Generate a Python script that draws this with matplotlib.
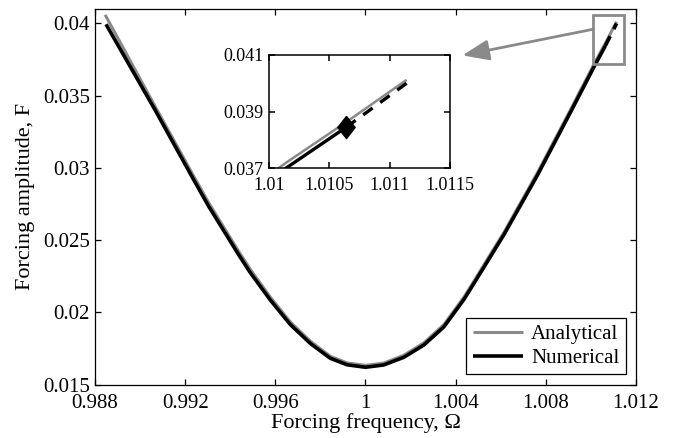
import matplotlib
matplotlib.use('Agg')
import matplotlib.pyplot as plt
from matplotlib.patches import Rectangle

plt.rcParams['font.family'] = ['Liberation Serif', 'DejaVu Serif']

# analytical backbone
omega_ana = [0.98845, 0.99067, 0.9923, 0.99304, 0.99437, 0.99489, 0.99578, 0.99667,
             0.99756, 0.99844, 0.99919, 1.0, 1.00081, 1.0017, 1.00259, 1.00348,
             1.00437, 1.00481, 1.00615, 1.00763, 1.00911, 1.01015, 1.01064, 1.01114]
force_ana = [0.04060, 0.03425, 0.02965, 0.02760, 0.02423, 0.02298, 0.02105, 0.01933,
             0.01800, 0.01696, 0.01650, 0.01633, 0.01649, 0.01703, 0.01789, 0.01916,
             0.02106, 0.02216, 0.02556, 0.02967, 0.03407, 0.03722, 0.03863, 0.04012]

# numerical continuation, stable branch
omega_num = [0.98849, 0.99067, 0.9923, 0.99304, 0.99437, 0.99489, 0.99578, 0.99667,
             0.99756, 0.99844, 0.99919, 1.0, 1.00081, 1.0017, 1.00259, 1.00348,
             1.00437, 1.00481, 1.00615, 1.00763, 1.00911, 1.01015, 1.01064]
force_num = [0.03994, 0.03400, 0.02940, 0.02735, 0.02400, 0.02275, 0.02085, 0.01915,
             0.01784, 0.01682, 0.01637, 0.01620, 0.01636, 0.01689, 0.01774, 0.01900,
             0.02090, 0.02200, 0.02540, 0.02950, 0.03390, 0.03703, 0.03845]

# numerical, unstable part after the bifurcation
omega_unst = [1.01064, 1.01114]
force_unst = [0.03845, 0.04000]

# bifurcation point
omega_bif = [1.01064]
force_bif = [0.03845]

x_ticks = [0.988, 0.992, 0.996, 1.0, 1.004, 1.008, 1.012]
x_labels = ['0.988', '0.992', '0.996', '1', '1.004', '1.008', '1.012']
y_ticks = [0.015, 0.02, 0.025, 0.03, 0.035, 0.04]
y_labels = ['0.015', '0.02', '0.025', '0.03', '0.035', '0.04']
inset_x_ticks = [1.01, 1.0105, 1.011, 1.0115]
inset_x_labels = ['1.01', '1.0105', '1.011', '1.0115']
inset_y_ticks = [0.037, 0.039, 0.041]
inset_y_labels = ['0.037', '0.039', '0.041']

GRAY = '#8a8a8a'


def style_axes(ax, fontsize, spine_w, xpad, ypad):
    ax.tick_params(direction='in', top=True, right=True, length=4,
                   width=spine_w, labelsize=fontsize)
    ax.tick_params(axis='x', pad=xpad)
    ax.tick_params(axis='y', pad=ypad)
    for sp in ax.spines.values():
        sp.set_linewidth(spine_w)


def draw_curves(ax, lw_ana, lw_num, dashes):
    ax.plot(omega_ana, force_ana, color=GRAY, lw=lw_ana, label='Analytical',
            solid_capstyle='butt', solid_joinstyle='round', zorder=2)
    ax.plot(omega_num, force_num, color='black', lw=lw_num, label='Numerical',
            solid_capstyle='butt', solid_joinstyle='round', zorder=3)
    ax.plot(omega_unst, force_unst, color='black', lw=lw_num, dashes=dashes,
            dash_capstyle='butt', zorder=3)


fig = plt.figure(figsize=(6.76, 4.38), dpi=100)
ax = fig.add_axes([0.1405, 0.1219, 0.8003, 0.8575])
draw_curves(ax, 2.2, 2.6, (3.0, 2.2))
ax.set_xlim(0.988, 1.012)
ax.set_ylim(0.015, 0.041)
ax.set_xticks(x_ticks)
ax.set_xticklabels(x_labels)
ax.set_yticks(y_ticks)
ax.set_yticklabels(y_labels)
style_axes(ax, 15, 0.9, 7, 3.5)
ax.set_xlabel('Forcing frequency, Ω', fontsize=16, labelpad=0)
ax.set_ylabel('Forcing amplitude, F', fontsize=16, labelpad=6)

leg = ax.legend(loc='lower right', fontsize=15, handlelength=2.4,
                frameon=True, fancybox=False, framealpha=1,
                borderaxespad=0.5, borderpad=0.3, labelspacing=0.2,
                handletextpad=0.4)
leg.get_frame().set_edgecolor('black')
leg.get_frame().set_linewidth(0.9)

# zoom box and arrow towards the inset
ax.add_patch(Rectangle((1.0101, 0.0372), 0.00138, 0.0034, fill=False,
                       edgecolor=GRAY, lw=2, zorder=4))
ax.annotate('', xy=(1.0043, 0.03779), xytext=(1.0101, 0.0396),
            arrowprops=dict(arrowstyle='-|>,head_length=0.9,head_width=0.35',
                            color=GRAY, lw=2, shrinkA=0, shrinkB=0,
                            mutation_scale=18),
            zorder=5, annotation_clip=False)

# inset
axin = fig.add_axes([0.3979, 0.6158, 0.2678, 0.2587])
draw_curves(axin, 1.8, 2.4, (3.5, 2.8))
axin.plot(omega_bif, force_bif, color='black', linestyle='none', zorder=4,
          marker=[(0, 1), (0.78, 0), (0, -1), (-0.78, 0), (0, 1)], markersize=16)
axin.set_xlim(1.01, 1.0115)
axin.set_ylim(0.037, 0.041)
axin.set_xticks(inset_x_ticks)
axin.set_xticklabels(inset_x_labels)
axin.set_yticks(inset_y_ticks)
axin.set_yticklabels(inset_y_labels)
style_axes(axin, 13, 1.1, 6, 4)

fig.savefig('out.png', dpi=100)
